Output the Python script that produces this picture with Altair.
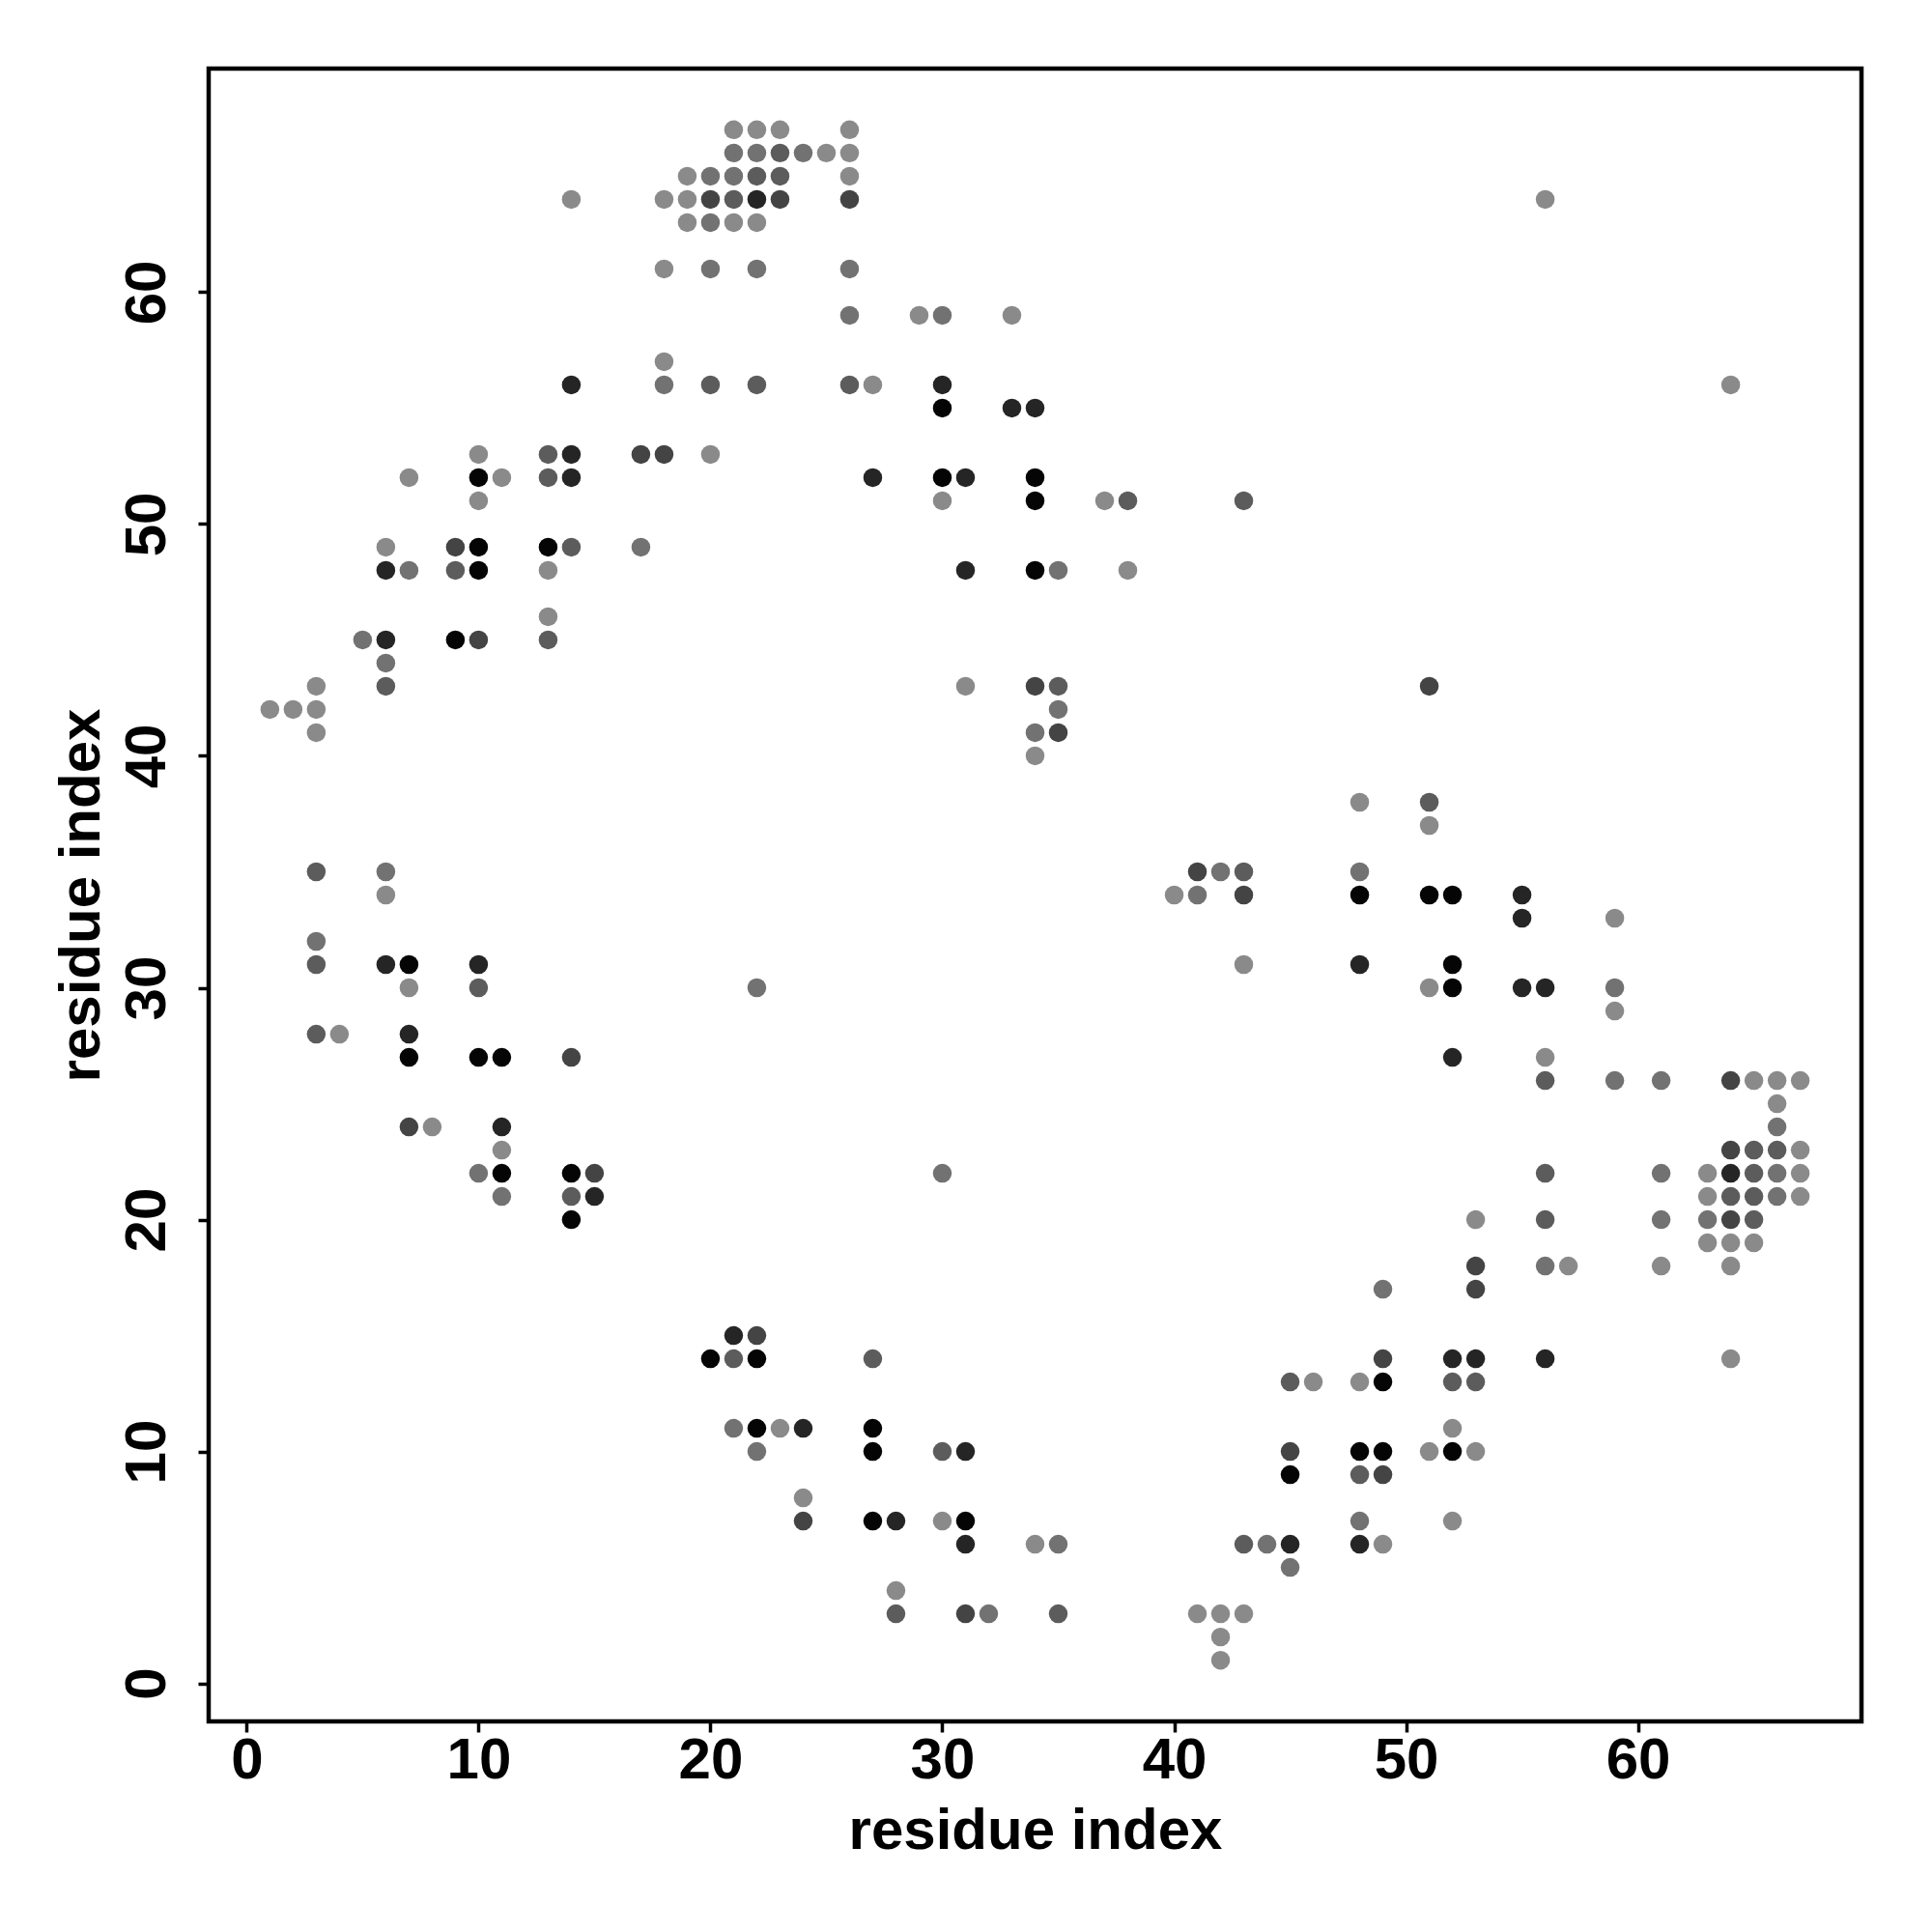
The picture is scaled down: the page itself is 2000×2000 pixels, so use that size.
import altair as alt
import pandas as pd

# residue index (x) of each contact, listed row by row from the top (y=67) down
x_res = [
    21, 22, 23, 26,
    21, 22, 23, 24, 25, 26,
    19, 20, 21, 22, 23, 26,
    14, 18, 19, 20, 21, 22, 23, 26, 56,
    19, 20, 21, 22,
    18, 20, 22, 26,
    26, 29, 30, 33,
    18,
    14, 18, 20, 22, 26, 27, 30, 64,
    30, 33, 34,
    10, 13, 14, 17, 18, 20,
    7, 10, 11, 13, 14, 27, 30, 31, 34,
    10, 30, 34, 37, 38, 43,
    6, 9, 10, 13, 14, 17,
    6, 7, 9, 10, 13, 31, 34, 35, 38,
    13,
    5, 6, 9, 10, 13,
    6,
    3, 6, 31, 34, 35, 51,
    1, 2, 3, 35,
    3, 34, 35,
    34,
    48, 51,
    51,
    3, 6, 41, 42, 43, 48,
    6, 40, 41, 43, 48, 51, 52, 55,
    55, 59,
    3,
    3, 6, 7, 10, 43, 48, 52,
    7, 10, 22, 51, 52, 55, 56, 59,
    59,
    3, 4, 7,
    7, 10, 11, 14, 52, 56,
    56, 59, 61, 64, 65, 66, 67,
    66,
    7, 8, 11, 66,
    11, 64, 65, 66, 67,
    10, 11, 14, 15, 30, 56, 61, 63, 64, 65, 66, 67,
    11, 14, 15, 63, 64, 65, 66, 67,
    14, 53, 56, 61, 63, 64, 65,
    63, 64, 65,
    53, 56, 57, 61, 64,
    49, 53,
    21, 22,
    20, 21, 22, 27, 49, 52, 53, 56, 64,
    45, 46, 48, 49, 52, 53,
    21, 22, 23, 24, 27, 52,
    22, 27, 30, 31, 45, 48, 49, 51, 52, 53,
    45, 48, 49,
    24,
    24, 27, 28, 30, 31, 48, 52,
    31, 34, 35, 43, 44, 45, 48, 49,
    45,
    28,
    28, 31, 32, 35, 41, 42, 43,
    42,
    42,
]

# residue index (y) of each contact
y_res = [
    67, 67, 67, 67,
    66, 66, 66, 66, 66, 66,
    65, 65, 65, 65, 65, 65,
    64, 64, 64, 64, 64, 64, 64, 64, 64,
    63, 63, 63, 63,
    61, 61, 61, 61,
    59, 59, 59, 59,
    57,
    56, 56, 56, 56, 56, 56, 56, 56,
    55, 55, 55,
    53, 53, 53, 53, 53, 53,
    52, 52, 52, 52, 52, 52, 52, 52, 52,
    51, 51, 51, 51, 51, 51,
    49, 49, 49, 49, 49, 49,
    48, 48, 48, 48, 48, 48, 48, 48, 48,
    46,
    45, 45, 45, 45, 45,
    44,
    43, 43, 43, 43, 43, 43,
    42, 42, 42, 42,
    41, 41, 41,
    40,
    38, 38,
    37,
    35, 35, 35, 35, 35, 35,
    34, 34, 34, 34, 34, 34, 34, 34,
    33, 33,
    32,
    31, 31, 31, 31, 31, 31, 31,
    30, 30, 30, 30, 30, 30, 30, 30,
    29,
    28, 28, 28,
    27, 27, 27, 27, 27, 27,
    26, 26, 26, 26, 26, 26, 26,
    25,
    24, 24, 24, 24,
    23, 23, 23, 23, 23,
    22, 22, 22, 22, 22, 22, 22, 22, 22, 22, 22, 22,
    21, 21, 21, 21, 21, 21, 21, 21,
    20, 20, 20, 20, 20, 20, 20,
    19, 19, 19,
    18, 18, 18, 18, 18,
    17, 17,
    15, 15,
    14, 14, 14, 14, 14, 14, 14, 14, 14,
    13, 13, 13, 13, 13, 13,
    11, 11, 11, 11, 11, 11,
    10, 10, 10, 10, 10, 10, 10, 10, 10, 10,
    9, 9, 9,
    8,
    7, 7, 7, 7, 7, 7, 7,
    6, 6, 6, 6, 6, 6, 6, 6,
    5,
    4,
    3, 3, 3, 3, 3, 3, 3,
    2,
    1,
]

# contact strength level (1 = weakest / lightest, 6 = strongest / black)
level = [
    1, 1, 1, 1,
    2, 2, 3, 2, 1, 1,
    1, 2, 2, 3, 3, 1,
    1, 1, 1, 4, 3, 5, 4, 4, 1,
    1, 2, 1, 1,
    1, 2, 2, 2,
    2, 1, 2, 1,
    1,
    5, 2, 3, 3, 3, 1, 5, 1,
    6, 5, 5,
    1, 3, 5, 4, 4, 1,
    1, 6, 1, 3, 5, 5, 6, 5, 6,
    1, 1, 6, 1, 3, 3,
    1, 4, 6, 6, 3, 2,
    5, 2, 3, 6, 1, 5, 6, 2, 1,
    1,
    2, 5, 6, 4, 3,
    2,
    1, 3, 1, 4, 3, 4,
    1, 1, 1, 2,
    1, 2, 4,
    1,
    1, 3,
    1,
    3, 2, 4, 2, 3, 2,
    1, 1, 2, 4, 6, 6, 6, 5,
    5, 1,
    2,
    3, 5, 6, 5, 1, 5, 6,
    1, 3, 2, 1, 6, 5, 5, 2,
    1,
    3, 1, 5,
    6, 6, 6, 4, 5, 1,
    3, 2, 2, 4, 1, 1, 1,
    1,
    4, 1, 5, 2,
    1, 4, 3, 3, 1,
    2, 6, 6, 4, 2, 3, 2, 1, 5, 3, 2, 1,
    2, 3, 5, 1, 3, 3, 2, 1,
    6, 1, 3, 2, 2, 4, 3,
    1, 1, 1,
    4, 2, 1, 1, 1,
    2, 4,
    5, 4,
    6, 3, 6, 3, 4, 5, 5, 5, 1,
    3, 1, 1, 6, 3, 3,
    2, 6, 1, 5, 6, 1,
    2, 6, 3, 5, 4, 6, 6, 1, 6, 1,
    6, 3, 4,
    1,
    4, 6, 5, 1, 6, 2, 1,
    5, 1, 2, 3, 2, 5, 5, 1,
    2,
    1,
    3, 4, 2, 3, 1, 1, 1,
    1,
    1,
]

level_values = [1, 2, 3, 4, 5, 6]
level_greys = ["#8a8a8a", "#727272", "#5c5c5c", "#444444", "#252525", "#050505"]
tick_values = [0, 10, 20, 30, 40, 50, 60]

assert len(x_res) == len(y_res) == len(level)

df = pd.DataFrame({"i": x_res, "j": y_res, "level": level})

W = 1711
H = 1711
FONT = "Liberation Sans"

common_axis = dict(
    values=tick_values,
    format="d",
    domain=False,
    grid=False,
    ticks=True,
    tickSize=11,
    tickWidth=3.5,
    tickColor="black",
    labelFont=FONT,
    labelFontSize=60,
    labelFontWeight="bold",
    labelColor="black",
    labelFlush=False,
    labelOverlap=False,
    title="residue index",
    titleFont=FONT,
    titleFontSize=60,
    titleFontWeight="bold",
    titleColor="black",
    titleAlign="center",
    titleBaseline="alphabetic",
)

x_axis = alt.Axis(
    **common_axis,
    labelAlign="center",
    labelBaseline="alphabetic",
    labelPadding=47,
    titleX=W / 2,
    titleY=131,
)

y_axis = alt.Axis(
    **common_axis,
    labelAngle=270,
    labelAlign="center",
    labelBaseline="alphabetic",
    labelPadding=35,
    titleAngle=270,
    titleX=-114,
    titleY=H / 2,
)

dom = [-1.64, 69.64]

chart = (
    alt.Chart(df)
    .mark_circle(size=380, opacity=1, strokeWidth=0)
    .encode(
        x=alt.X("i:Q", scale=alt.Scale(domain=dom, nice=False, zero=False), axis=x_axis),
        y=alt.Y("j:Q", scale=alt.Scale(domain=dom, nice=False, zero=False), axis=y_axis),
        color=alt.Color(
            "level:O",
            scale=alt.Scale(domain=level_values, range=level_greys),
            legend=None,
        ),
        order=alt.Order("level:Q"),
    )
    .properties(
        width=W,
        height=H,
        autosize=alt.AutoSizeParams(type="none"),
        padding={"left": 208, "top": 63, "right": 40, "bottom": 160},
        background="white",
    )
    .configure_view(stroke="black", strokeWidth=4.5)
)

chart.save("out.html", embed_options={"renderer": "svg", "actions": False})
